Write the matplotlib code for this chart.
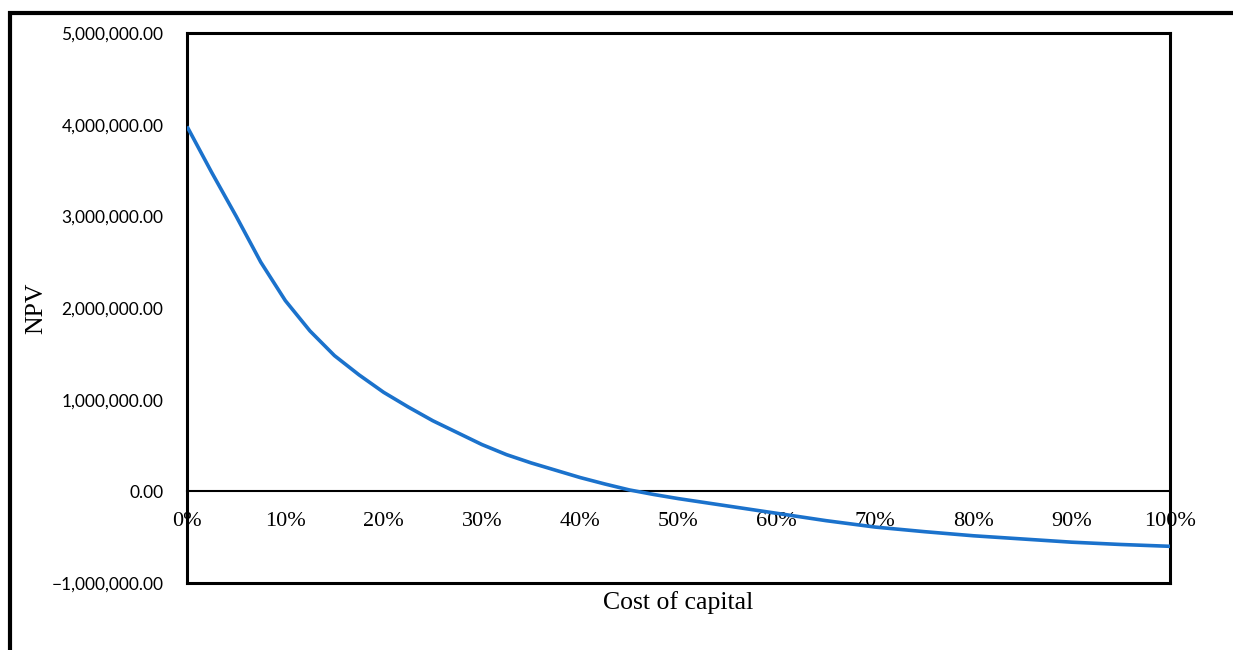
import matplotlib
matplotlib.use("Agg")
import matplotlib.pyplot as plt
from matplotlib.lines import Line2D
from matplotlib.ticker import FuncFormatter, PercentFormatter

# NPV profile, denser steps where the curve bends most
rates = [0.000, 0.025, 0.050, 0.075, 0.100, 0.125, 0.150, 0.175, 0.200, 0.225,
         0.250, 0.275, 0.300, 0.325, 0.350, 0.375, 0.400, 0.425, 0.450, 0.475,
         0.500, 0.550, 0.600, 0.650, 0.700, 0.750, 0.800, 0.850, 0.900, 0.950,
         1.000]
npv = [3980000, 3480000, 3000000, 2500000, 2080000, 1750000, 1480000, 1270000,
       1080000, 920000, 770000, 640000, 510000, 400000, 310000, 230000,
       150000, 80000, 15000, -35000, -80000, -160000, -240000, -320000,
       -390000, -440000, -485000, -520000, -555000, -580000, -600000]
y_ticks = [-1000000, 0, 1000000, 2000000, 3000000, 4000000, 5000000]
x_ticks = [0.0, 0.1, 0.2, 0.3, 0.4, 0.5, 0.6, 0.7, 0.8, 0.9, 1.0]

serif = "Liberation Serif"
sans = "Lato"

fig = plt.figure(figsize=(12.33, 6.5), dpi=100)
fig.patch.set_facecolor("white")
ax = fig.add_axes([0.1517, 0.1031, 0.7972, 0.8462])

ax.plot(rates, npv, color="#1B72CC", lw=2.6, solid_capstyle="butt",
        solid_joinstyle="round", zorder=3)

ax.set_xlim(0, 1)
ax.set_ylim(-1000000, 5000000)

for s in ax.spines.values():
    s.set_linewidth(2.2)
    s.set_color("black")

# y axis: money labels, no tick marks
ax.set_yticks(y_ticks)
ax.yaxis.set_major_formatter(FuncFormatter(lambda v, p: f"{v:,.2f}".replace("-", "\u2212")))
ax.tick_params(axis="y", length=0, pad=17, labelsize=12.5)
for lab in ax.get_yticklabels():
    lab.set_family(sans)

# x axis labels sit on the zero line
ax.set_xticks([])
zero_ax = ax.secondary_xaxis(0, transform=ax.transData)
zero_ax.set_xticks(x_ticks)
zero_ax.xaxis.set_major_formatter(PercentFormatter(1.0, decimals=0))
zero_ax.tick_params(axis="x", length=0, pad=15, labelsize=16)
zero_ax.spines["bottom"].set_linewidth(1.5)
for lab in zero_ax.get_xticklabels():
    lab.set_family(serif)

ax.set_xlabel("Cost of capital", fontsize=18.5, family=serif, labelpad=6)
ax.set_ylabel("NPV", fontsize=18.5, family=serif)
ax.yaxis.set_label_coords(-0.142, 0.5)

# outer frame lines along the top and left edge
W, H = 1233, 650
fig.add_artist(Line2D([8 / W, 1.0], [1 - 13 / H, 1 - 13 / H], color="black", lw=3,
                      solid_capstyle="butt", transform=fig.transFigure))
fig.add_artist(Line2D([10 / W, 10 / W], [1 - 11 / H, 0.0], color="black", lw=3,
                      solid_capstyle="butt", transform=fig.transFigure))

fig.savefig("out.png", dpi=100, facecolor="white")
